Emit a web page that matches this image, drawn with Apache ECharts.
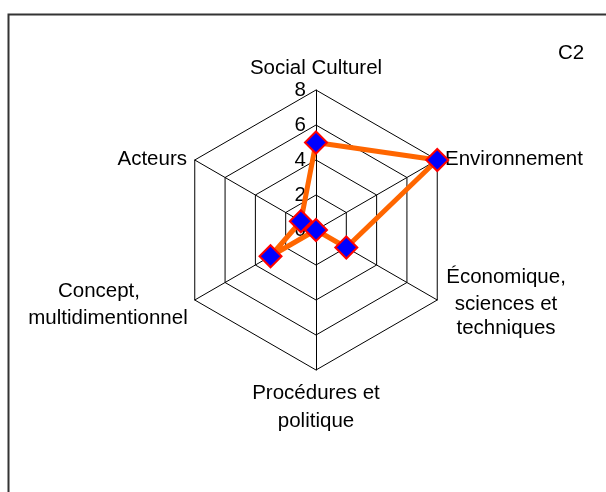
<!DOCTYPE html>
<html lang="fr">
<head>
<meta charset="utf-8">
<title>C2</title>
<script src="https://cdn.jsdelivr.net/npm/echarts@6/dist/echarts.min.js"></script>
<style>
html, body { margin: 0; padding: 0; background: #fff; }
#chart { width: 606px; height: 492px; }
</style>
</head>
<body>
<div id="chart"></div>
<script>
// axes, counterclockwise from the top (ECharts draws radar indicators that way)
var indicatorNames = ['Social Culturel', 'Acteurs', 'Concept,\nmultidimentionnel',
    'Procédures et\npolitique', 'Économique,\nsciences et\ntechniques', 'Environnement'];
var indicatorMax = 8;
var c2Values = [5, 1, 3, 0, 2, 8];
var chartTitle = 'C2';

var font = '"Liberation Sans", Arial, sans-serif';
var fs = 20.5;

var chart = echarts.init(document.getElementById('chart'));

// rich style key per axis name, so each can be nudged a little
var nameStyles = ['t', 's', 'l', 'b', 'r', 's'];

function nameFormatter(name) {
    var idx = indicatorNames.indexOf(name);
    var st = nameStyles[idx];
    var lines = name.split('\n');
    return lines.map(function (s, i) {
        if (st === 'l' && i === 0) return '{l0|' + s + '}';
        if (st === 'r' && i === lines.length - 1) return '{rz|' + s + '}';
        return '{' + st + '|' + s + '}';
    }).join('\n');
}

function rs(extra) {
    return Object.assign({ fontFamily: font, fontSize: fs, lineHeight: 27, color: '#000' }, extra);
}

var indicators = indicatorNames.map(function (n, i) {
    var ind = { name: n, min: 0, max: indicatorMax };
    if (i === 0) ind.axisLabel = { show: true };
    return ind;
});

var option = {
    animation: false,
    backgroundColor: '#fff',
    title: {
        text: chartTitle,
        left: 553,
        top: 38,
        textStyle: { fontFamily: font, fontSize: fs, fontWeight: 'normal', color: '#000' }
    },
    graphic: [{
        type: 'rect',
        shape: { x: 8.5, y: 14.5, width: 700, height: 600 },
        style: { fill: 'none', stroke: '#333', lineWidth: 2 },
        silent: true
    }],
    radar: {
        center: [316, 230],
        radius: 140,
        shape: 'polygon',
        splitNumber: 4,
        startAngle: 90,
        nameGap: 9,
        axisName: {
            color: '#000',
            fontFamily: font,
            fontSize: fs,
            lineHeight: 27,
            formatter: nameFormatter,
            rich: {
                t: rs({ lineHeight: 22 }),
                s: rs({ padding: [8, 0, 0, 0] }),
                r: rs({ width: 122, align: 'center' }),
                rz: rs({ width: 122, align: 'center', padding: [0, 0, 6, 0] }),
                l: rs({ width: 158, align: 'center' }),
                l0: rs({ width: 140, align: 'center', padding: [0, 18, 0, 0] }),
                b: rs({ width: 130, align: 'center', lineHeight: 28 })
            }
        },
        axisLine: { show: true, lineStyle: { color: '#000', width: 1 } },
        splitLine: { show: true, lineStyle: { color: '#000', width: 1 } },
        splitArea: { show: false },
        axisTick: { show: false },
        axisLabel: {
            show: false,
            margin: 10,
            color: '#000',
            fontFamily: font,
            fontSize: fs
        },
        indicator: indicators
    },
    series: [{
        type: 'radar',
        symbol: 'diamond',
        symbolSize: 22,
        lineStyle: { color: '#FF6600', width: 5 },
        itemStyle: { color: '#0000FF', borderColor: '#FF0000', borderWidth: 2 },
        data: [{ value: c2Values, name: chartTitle }]
    }]
};

chart.setOption(option);
</script>
</body>
</html>
